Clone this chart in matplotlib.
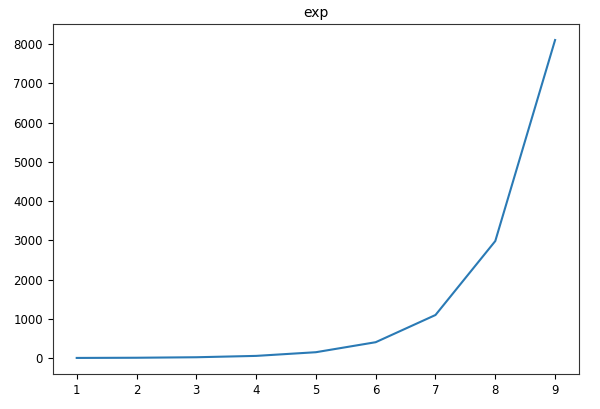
import matplotlib
matplotlib.use("Agg")
import matplotlib.pyplot as plt

# values
x = [1, 2, 3, 4, 5, 6, 7, 8, 9]
y = [2.7, 7.4, 20.1, 54.6, 148.4, 403.4, 1096.6, 2981.0, 8103.1]

plt.rcParams['font.size'] = 8.5
fig = plt.figure(figsize=[6, 4.09], dpi=100)
ax = fig.gca()
ax.plot(x, y, color='#2a7ab5')
ax.set_title('exp', fontsize=10, pad=5)
for s in ax.spines.values():
    s.set_color('#333333')
fig.subplots_adjust(left=0.088, right=0.965, bottom=0.086, top=0.941)
fig.savefig('out.png')
